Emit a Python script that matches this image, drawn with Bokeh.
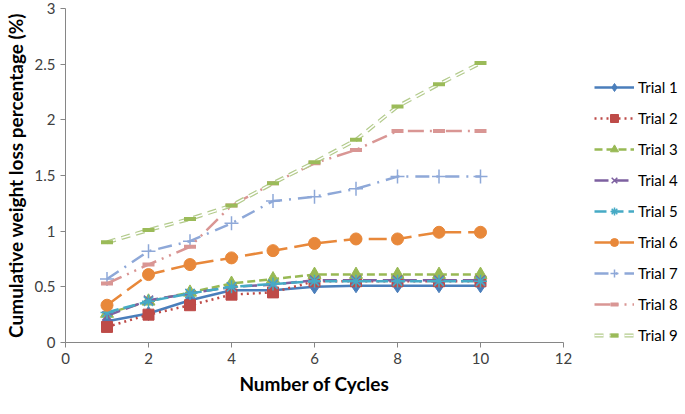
from bokeh.plotting import figure
from bokeh.models import Legend, LegendItem, NumeralTickFormatter, FixedTicker, Range1d
from bokeh.embed import file_html
from bokeh.resources import INLINE

cycles = [1, 2, 3, 4, 5, 6, 7, 8, 9, 10]
trial1 = [0.19, 0.26, 0.38, 0.47, 0.47, 0.50, 0.51, 0.51, 0.51, 0.51]
trial2 = [0.14, 0.25, 0.335, 0.43, 0.45, 0.55, 0.55, 0.55, 0.55, 0.55]
trial3 = [0.26, 0.37, 0.45, 0.53, 0.57, 0.61, 0.61, 0.61, 0.61, 0.61]
trial4 = [0.24, 0.38, 0.44, 0.50, 0.52, 0.56, 0.56, 0.56, 0.56, 0.56]
trial5 = [0.27, 0.37, 0.44, 0.50, 0.525, 0.55, 0.55, 0.55, 0.55, 0.55]
trial6 = [0.335, 0.61, 0.70, 0.76, 0.825, 0.89, 0.93, 0.93, 0.99, 0.99]
trial7 = [0.57, 0.82, 0.91, 1.07, 1.27, 1.31, 1.38, 1.49, 1.49, 1.49]
trial8 = [0.53, 0.70, 0.86, 1.23, 1.43, 1.61, 1.73, 1.90, 1.90, 1.90]
trial9 = [0.90, 1.01, 1.11, 1.23, 1.43, 1.62, 1.82, 2.12, 2.32, 2.51]
names = ["Trial 1", "Trial 2", "Trial 3", "Trial 4", "Trial 5", "Trial 6", "Trial 7", "Trial 8", "Trial 9"]
y_ticks = [0, 0.5, 1, 1.5, 2, 2.5, 3]
x_ticks = [0, 2, 4, 6, 8, 10, 12]

FONT = "Lato"

p = figure(frame_width=498, frame_height=334, output_backend="svg", toolbar_location=None,
           x_range=Range1d(0, 12), y_range=Range1d(0, 3),
           min_border_left=61, min_border_top=8, min_border_bottom=56, min_border_right=110)
p.outline_line_color = None
p.grid.visible = False

for ax in (p.xaxis[0], p.yaxis[0]):
    ax.axis_line_color = "#868686"
    ax.major_tick_line_color = "#868686"
    ax.minor_tick_line_color = None
    ax.major_tick_out = 5
    ax.major_tick_in = 0
    ax.major_label_text_font = FONT
    ax.major_label_text_font_size = "15px"
    ax.major_label_text_color = "#404040"
    ax.axis_label_text_font = FONT
    ax.axis_label_text_font_style = "bold"
    ax.axis_label_text_font_size = "19px"
    ax.axis_label_text_color = "#000000"

p.xaxis.ticker = FixedTicker(ticks=x_ticks)
p.yaxis.ticker = FixedTicker(ticks=y_ticks)
p.yaxis.formatter = NumeralTickFormatter(format="0.[0]")
p.xaxis.axis_label = "Number of Cycles"
p.yaxis.axis_label = "Cumulative weight loss percentage (%)"

items = []

# Trial 1
r = []
r.append(p.line(cycles, trial1, line_color="#4A7EBB", line_width=2.5))
r.append(p.scatter(cycles, trial1, marker="diamond", size=14, fill_color="#4A7EBB", line_color="#4A7EBB"))
items.append(LegendItem(label=names[0], renderers=r))
# Trial 2
r = []
r.append(p.line(cycles, trial2, line_color="#BE4B48", line_width=2.5, line_dash="2 4"))
r.append(p.scatter(cycles, trial2, marker="square", size=11, fill_color="#BE4B48", line_color="#BE4B48"))
items.append(LegendItem(label=names[1], renderers=r))
# Trial 3
r = []
r.append(p.line(cycles, trial3, line_color="#98B954", line_width=2.5, line_dash="8 4"))
r.append(p.scatter(cycles, trial3, marker="triangle", size=13, fill_color="#98B954", line_color="#98B954"))
items.append(LegendItem(label=names[2], renderers=r))
# Trial 4
r = []
r.append(p.line(cycles, trial4, line_color="#7D60A0", line_width=2.5, line_dash="14 6"))
r.append(p.scatter(cycles, trial4, marker="x", size=13, line_color="#7D60A0", line_width=1.5))
items.append(LegendItem(label=names[3], renderers=r))
# Trial 5
r = []
r.append(p.line(cycles, trial5, line_color="#46AAC5", line_width=2.5, line_dash="12 5"))
r.append(p.scatter(cycles, trial5, marker="asterisk", size=13, line_color="#46AAC5", line_width=1.5))
items.append(LegendItem(label=names[4], renderers=r))
# Trial 6
r = []
r.append(p.line(cycles, trial6, line_color="#E8883A", line_width=2.5, line_dash="18 7"))
r.append(p.scatter(cycles, trial6, marker="circle", size=12, fill_color="#E8883A", line_color="#E8883A"))
items.append(LegendItem(label=names[5], renderers=r))
# Trial 7
r = []
r.append(p.line(cycles, trial7, line_color="#8EA8D8", line_width=2.5, line_dash="14 7 2 7"))
r.append(p.scatter(cycles, trial7, marker="cross", size=14, line_color="#8EA8D8", line_width=1.5))
items.append(LegendItem(label=names[6], renderers=r))
# Trial 8
r = []
r.append(p.line(cycles, trial8, line_color="#D99694", line_width=2.5, line_dash="16 6 2 6 2 6"))
r.append(p.scatter(cycles, trial8, marker="dash", size=12, line_color="#D99694", line_width=4))
items.append(LegendItem(label=names[7], renderers=r))
# Trial 9
r = []
r.append(p.line(cycles, trial9, line_color="#B3CB8C", line_width=4, line_dash="9 6"))
r.append(p.line(cycles, trial9, line_color="white", line_width=1.5, line_dash="9 6"))
r.append(p.scatter(cycles, trial9, marker="dash", size=12, line_color="#9BBB59", line_width=4))
items.append(LegendItem(label=names[8], renderers=r))

legend = Legend(items=items, location=(31, -3), glyph_width=40, glyph_height=20,
                spacing=11, label_standoff=4, padding=0, margin=0,
                label_text_font=FONT, label_text_font_size="15px", label_text_color="#000000",
                border_line_color=None, background_fill_alpha=0)
p.add_layout(legend, "right")

open("out.html", "w").write(file_html(p, INLINE))
